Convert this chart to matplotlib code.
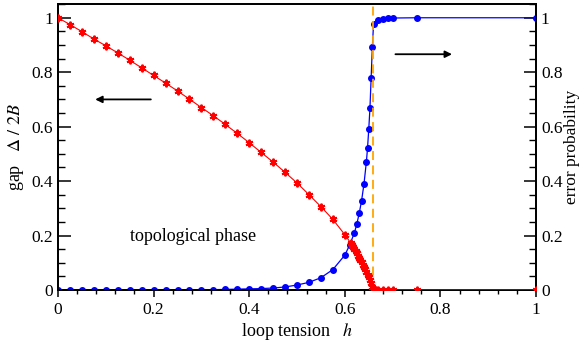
import matplotlib
matplotlib.use("Agg")
from matplotlib import pyplot as plt
from matplotlib.ticker import MultipleLocator, FuncFormatter

plt.rcParams['font.family'] = ['Liberation Serif', 'DejaVu Serif']
plt.rcParams['mathtext.fontset'] = 'stix'

# gap Delta/2B (left axis)
h_gap = [0.0, 0.025, 0.05, 0.075, 0.1, 0.125, 0.15, 0.175, 0.2, 0.225, 0.25, 0.275,
         0.3, 0.325, 0.35, 0.375, 0.4, 0.425, 0.45, 0.475, 0.5, 0.525, 0.55, 0.575, 0.6,
         0.6125, 0.615, 0.6175, 0.62, 0.6225, 0.625, 0.6275, 0.63, 0.6325, 0.635, 0.6375,
         0.64, 0.6425, 0.645, 0.6475, 0.65, 0.6525, 0.655, 0.6575, 0.66, 0.6625,
         0.665, 0.67, 0.68, 0.69, 0.70, 0.75, 1.0]
gap = [1.0, 0.975, 0.949, 0.922, 0.897, 0.871, 0.844, 0.816, 0.788, 0.760, 0.731, 0.701,
       0.670, 0.640, 0.608, 0.575, 0.541, 0.505, 0.470, 0.432, 0.393, 0.350, 0.306, 0.259, 0.203,
       0.172, 0.166, 0.158, 0.150, 0.142, 0.134, 0.126, 0.118, 0.110, 0.101, 0.093,
       0.085, 0.076, 0.066, 0.056, 0.046, 0.035, 0.024, 0.012, 0.003, 0.0,
       0.0, 0.0, 0.0, 0.0, 0.0, 0.0, 0.0]

# error probability (right axis)
h_err = [0.0, 0.025, 0.05, 0.075, 0.1, 0.125, 0.15, 0.175, 0.2, 0.225, 0.25, 0.275,
         0.3, 0.325, 0.35, 0.375, 0.4, 0.425, 0.45, 0.475, 0.5, 0.525, 0.55, 0.575, 0.6,
         0.61, 0.62, 0.625, 0.63, 0.635, 0.64, 0.645, 0.6475, 0.65, 0.6525, 0.655, 0.6575,
         0.66, 0.67, 0.68, 0.69, 0.70, 0.75, 1.0]
err = [0.0, 0.0, 0.0, 0.0, 0.0, 0.0, 0.0, 0.0, 0.0, 0.0, 0.0, 0.0,
       0.001, 0.001, 0.002, 0.003, 0.004, 0.005, 0.007, 0.011, 0.018, 0.028, 0.045, 0.075, 0.128,
       0.165, 0.21, 0.242, 0.281, 0.328, 0.389, 0.47, 0.522, 0.59, 0.667, 0.78, 0.891,
       0.976, 0.993, 0.997, 0.998, 0.999, 1.0, 1.0]

h_crit = 0.658
ticks = [0, 0.2, 0.4, 0.6, 0.8, 1]

fig = plt.figure(figsize=(5.83, 3.46), dpi=100)
ax = fig.add_axes([0.0995, 0.162, 0.82, 0.826])
ax2 = ax.twinx()

ax.plot(h_gap, gap, color='#ff0000', lw=0.8, marker=(6, 2, 0), ms=5.5, mew=1.4, zorder=3)
ax2.plot(h_err, err, color='#0000ff', lw=0.9, marker='o', ms=4, zorder=3)
ax.axvline(h_crit, color='orange', ls=(0, (5, 3)), lw=1.3, zorder=2)

fmt = FuncFormatter(lambda v, p: '%g' % round(v, 2))
for a in (ax, ax2):
    a.set_xlim(0, 1)
    a.set_ylim(0, 1.05)
    a.set_yticks(ticks)
    a.yaxis.set_minor_locator(MultipleLocator(0.05))
    a.yaxis.set_major_formatter(fmt)
    for s in a.spines.values():
        s.set_linewidth(1.3)
ax.set_xticks(ticks)
ax.xaxis.set_minor_locator(MultipleLocator(0.04))
ax.xaxis.set_major_formatter(fmt)
ax.tick_params(axis='x', which='major', direction='out', length=5, width=1.1, labelsize=12.5)
ax.tick_params(axis='x', which='minor', direction='out', length=3, width=1.0)
ax.tick_params(axis='y', which='major', direction='in', length=9, width=1.1, labelsize=12.5)
ax.tick_params(axis='y', which='minor', direction='in', length=5, width=1.0)
ax2.tick_params(axis='y', which='major', direction='in', length=9, width=1.1, labelsize=12.5)
ax2.tick_params(axis='y', which='minor', direction='in', length=5, width=1.0)
ax.zorder = 2
ax.patch.set_visible(False)

ax.set_xlabel(r'loop tension   $h$', fontsize=13, labelpad=2)
ax.set_ylabel(r'gap   $\Delta\ /\ 2B$', fontsize=13, labelpad=4)
ax2.set_ylabel('error probability', fontsize=12.5, labelpad=1)

ax.text(0.151, 0.195, 'topological phase', fontsize=13, va='center', ha='left')
ax.annotate('', xy=(0.072, 0.70), xytext=(0.2, 0.70),
            arrowprops=dict(arrowstyle='-|>', color='black', lw=1.3, mutation_scale=10))
ax.annotate('', xy=(0.83, 0.866), xytext=(0.70, 0.866),
            arrowprops=dict(arrowstyle='-|>', color='black', lw=1.3, mutation_scale=10))

fig.savefig('out.png', dpi=100)
